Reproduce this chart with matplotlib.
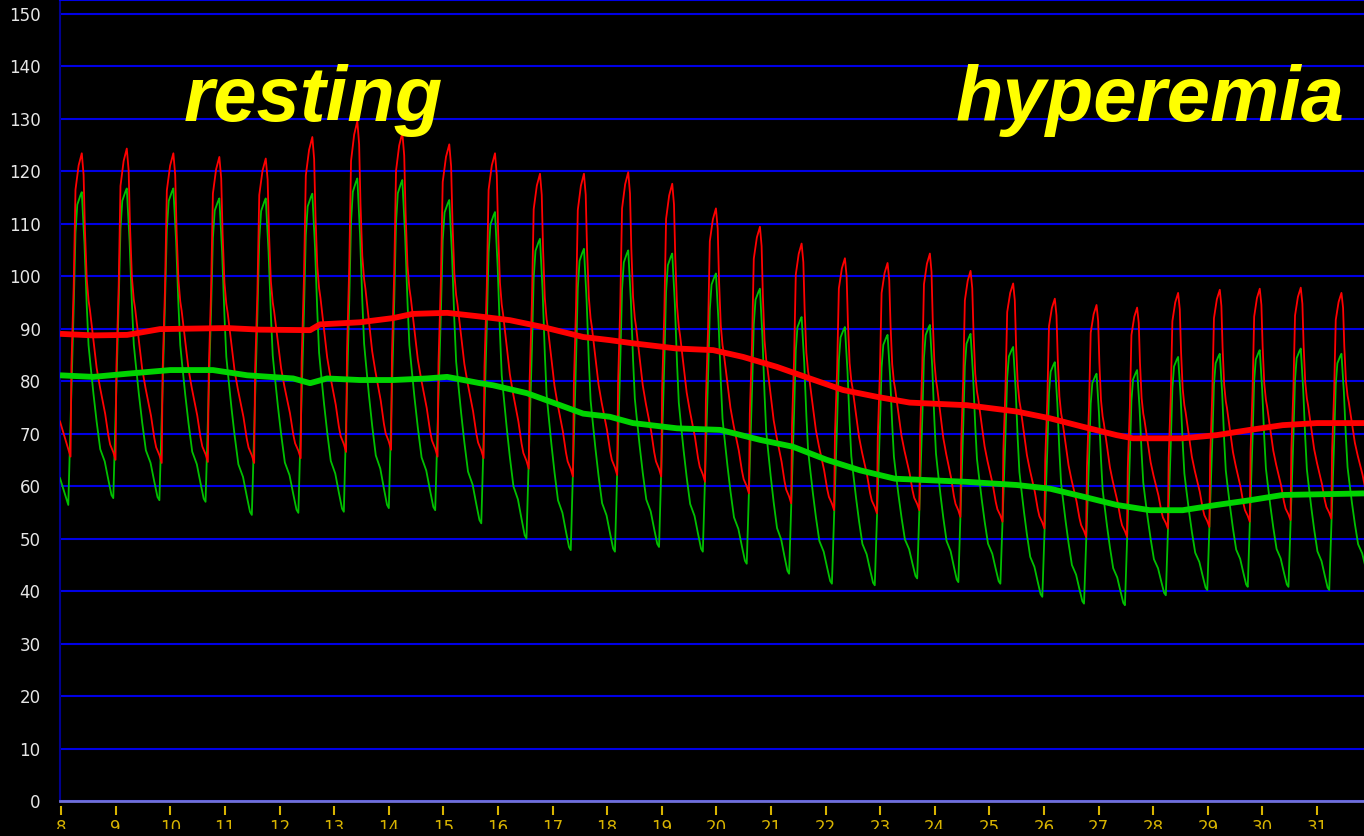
import numpy as np
import matplotlib.pyplot as plt
import matplotlib as mlt
import matplotlib.patches as mpatches

# time of each systolic peak (s)
peak_t = [8.379, 9.203, 10.056, 10.898, 11.748, 12.601, 13.425, 14.249, 15.109,
          15.946, 16.770, 17.575, 18.386, 19.192, 19.992, 20.798, 21.561, 22.354,
          23.135, 23.910, 24.655, 25.435, 26.198, 26.962, 27.705, 28.456, 29.219,
          29.951, 30.702, 31.447]

# aortic pressure (red): peak of each beat, trough before each beat (+ one after the last)
pa_sys = [123.4, 124.3, 123.4, 122.7, 122.4, 126.5, 129.5, 127.3, 125.1,
          123.4, 119.5, 119.5, 119.8, 117.6, 112.9, 109.4, 106.2, 103.4,
          102.5, 104.3, 101.0, 98.6, 95.7, 94.5, 94.0, 96.8, 97.4,
          97.6, 97.8, 96.8]
pa_dia = [65.6, 65.0, 64.4, 64.6, 64.4, 65.3, 66.5, 66.9, 65.6,
          65.3, 63.3, 61.8, 62.1, 61.8, 60.8, 58.6, 56.7, 55.4,
          54.8, 55.4, 54.1, 53.2, 51.9, 50.3, 50.3, 51.9, 52.2,
          53.2, 53.5, 53.8, 56.0]
pa_start = 72.3

# distal pressure (green)
pd_sys = [116.0, 116.7, 116.7, 114.8, 114.8, 115.7, 118.6, 118.3, 114.5,
          112.2, 107.1, 105.2, 104.9, 104.3, 100.5, 97.6, 92.2, 90.3,
          88.8, 90.7, 89.0, 86.5, 83.6, 81.4, 82.1, 84.6, 85.2,
          85.9, 86.2, 85.2]
pd_dia = [56.4, 57.7, 57.3, 57.0, 54.5, 54.9, 55.1, 55.8, 55.4,
          52.9, 50.0, 47.8, 47.5, 48.4, 47.5, 45.2, 43.3, 41.4,
          41.1, 42.4, 41.7, 41.4, 38.9, 37.6, 37.3, 39.2, 40.2,
          40.8, 40.8, 40.2, 42.0]
pd_start = 61.5

# beat shapes: phase 0 = peak, 1 = next peak; level 0 = trough, 1 = peak
pa_fall_ph = [0.00, 0.04, 0.07, 0.11, 0.15, 0.18, 0.26, 0.33, 0.40, 0.48, 0.52, 0.59, 0.63, 0.70, 0.75]
pa_fall_lv = [1.00, 0.93, 0.75, 0.59, 0.52, 0.49, 0.39, 0.30, 0.24, 0.18, 0.15, 0.08, 0.05, 0.025, 0.00]
pa_rise_ph = [0.77, 0.82, 0.86, 0.93]
pa_rise_lv = [0.30, 0.56, 0.88, 0.96]

pd_fall_ph = [0.00, 0.06, 0.11, 0.15, 0.19, 0.26, 0.33, 0.41, 0.51, 0.59, 0.66, 0.70]
pd_fall_lv = [1.00, 0.83, 0.63, 0.50, 0.44, 0.34, 0.25, 0.16, 0.12, 0.06, 0.01, 0.00]
pd_rise_ph = [0.787, 0.82, 0.86, 0.90, 0.97]
pd_rise_lv = [0.45, 0.63, 0.87, 0.96, 0.99]

# moving mean pressures
pa_mean_t = [7.98, 8.59, 9.21, 9.81, 11.04, 11.64, 12.56, 12.74, 13.47, 14.08, 14.44,
             15.07, 15.67, 16.22, 16.82, 17.56, 18.05, 18.47, 19.28, 19.94, 20.49,
             21.11, 21.71, 22.32, 22.94, 23.54, 24.59, 25.50, 26.11, 26.71, 27.33,
             27.63, 28.54, 29.16, 29.77, 30.37, 31.00, 31.86]
pa_mean = [89.0, 88.7, 88.8, 89.9, 90.1, 89.8, 89.7, 90.8, 91.2, 92.0, 92.8,
           93.0, 92.3, 91.6, 90.3, 88.4, 87.8, 87.2, 86.2, 85.9, 84.6,
           82.7, 80.5, 78.3, 77.0, 75.9, 75.4, 74.2, 72.9, 71.3, 69.7,
           69.1, 69.1, 69.7, 70.7, 71.6, 72.0, 72.0]

pd_mean_t = [7.98, 8.59, 9.21, 10.00, 10.78, 11.41, 12.25, 12.56, 12.87, 13.47, 14.08,
             14.70, 15.07, 15.67, 15.91, 16.53, 17.14, 17.56, 18.05, 18.47, 19.28,
             20.07, 20.80, 21.40, 22.02, 22.63, 23.27, 24.59, 25.50, 26.11, 26.71,
             27.33, 27.94, 28.54, 29.16, 29.77, 30.37, 31.86]
pd_mean = [81.1, 80.8, 81.4, 82.1, 82.1, 81.1, 80.5, 79.6, 80.5, 80.2, 80.2,
           80.5, 80.8, 79.6, 79.2, 77.7, 75.4, 73.8, 73.2, 72.0, 71.0,
           70.7, 68.8, 67.5, 65.0, 63.0, 61.4, 60.8, 60.2, 59.5, 58.0,
           56.4, 55.4, 55.4, 56.4, 57.3, 58.3, 58.6]

sec_ticks = list(range(8, 32))

XMIN, XMAX = 7.98, 31.86


def trace(t_pk, sys_v, dia_v, start_v, fall_ph, fall_lv, rise_ph, rise_lv):
    tt, vv = [XMIN], [start_v]
    n = len(t_pk)
    p0 = t_pk[1] - t_pk[0]
    tt.append(t_pk[0] - p0 * (1 - fall_ph[-1]))
    vv.append(dia_v[0])
    for k in range(n):
        p_prev = t_pk[k] - t_pk[k - 1] if k > 0 else p0
        p_next = t_pk[k + 1] - t_pk[k] if k < n - 1 else p_prev
        for ph, lv in zip(rise_ph, rise_lv):
            tt.append(t_pk[k] - p_prev * (1 - ph))
            vv.append(dia_v[k] + lv * (sys_v[k] - dia_v[k]))
        for ph, lv in zip(fall_ph, fall_lv):
            tt.append(t_pk[k] + p_next * ph)
            vv.append(dia_v[k + 1] + lv * (sys_v[k] - dia_v[k + 1]))
    return np.array(tt), np.array(vv)


pa_t, pa_v = trace(peak_t, pa_sys, pa_dia, pa_start, pa_fall_ph, pa_fall_lv, pa_rise_ph, pa_rise_lv)
pd_t, pd_v = trace(peak_t, pd_sys, pd_dia, pd_start, pd_fall_ph, pd_fall_lv, pd_rise_ph, pd_rise_lv)

mlt.rcParams["font.family"] = "DejaVu Sans"
fig = plt.figure(figsize=(13.64, 8.36), dpi=100, facecolor="black")
ax = fig.add_axes([60 / 1364, 35 / 836, 1304 / 1364, 801 / 836])
ax.set_facecolor("black")

ax.plot(pd_t, pd_v, color="#00c000", lw=1.3, zorder=3)
ax.plot(pa_t, pa_v, color="#ff0000", lw=1.3, zorder=4)
ax.plot(pd_mean_t, pd_mean, color="#00d400", lw=4.2, solid_capstyle="butt", zorder=5)
ax.plot(pa_mean_t, pa_mean, color="#ff0000", lw=4.2, solid_capstyle="butt", zorder=6)

ax.set_xlim(XMIN, XMAX)
ax.set_ylim(0, 152.6)
ax.set_yticks(range(0, 151, 10))
ax.set_xticks(sec_ticks)
ax.yaxis.grid(True, color="#0000e6", lw=1.5)
ax.set_axisbelow(True)

ax.spines["right"].set_visible(False)
ax.spines["left"].set_color("#000090")
ax.spines["left"].set_linewidth(1.5)
ax.spines["top"].set_color("#0000e6")
ax.spines["top"].set_linewidth(1.5)
ax.spines["bottom"].set_color("#7070d8")
ax.spines["bottom"].set_linewidth(2)

ax.tick_params(axis="y", length=0, pad=14, labelcolor="#e6e6e6", labelsize=12)
ax.tick_params(axis="x", length=0, pad=13, labelcolor="#d8b400", labelsize=12)

# second marks sit a little below the axis line
ax.vlines(sec_ticks, -14 / 801, -5 / 801, transform=ax.get_xaxis_transform(),
          color="#d8b400", lw=1.5, clip_on=False)

ax.text(10.25, 129.5, "resting", color="#ffff00", fontsize=56, fontweight="bold",
        fontstyle="italic", family="Liberation Sans", va="baseline", zorder=10)
ax.text(24.38, 129.5, "hyperemia", color="#ffff00", fontsize=56, fontweight="bold",
        fontstyle="italic", family="Liberation Sans", va="baseline", zorder=10)

# bottom strip of the window hides the lower half of the time labels
fig.add_artist(mpatches.Rectangle((0, 0), 1, 7 / 836, transform=fig.transFigure,
                                  facecolor="black", edgecolor="none", zorder=20))

fig.savefig("out.png", dpi=100, facecolor="black")
